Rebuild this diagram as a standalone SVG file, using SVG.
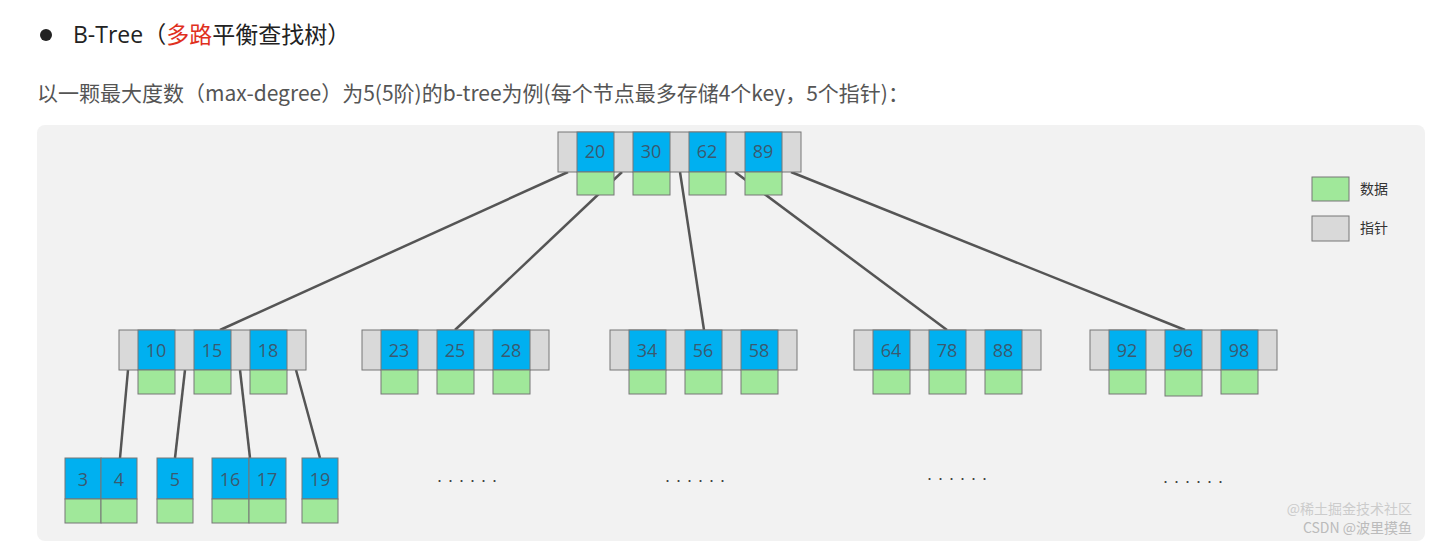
<svg xmlns="http://www.w3.org/2000/svg" width="1430" height="543" viewBox="0 0 1430 543">
<style>
.g{fill:#d9d9d9;stroke:#777;stroke-width:1}
.b{fill:#00b0f0;stroke:#777;stroke-width:1}
.d{fill:#a0e89a;stroke:#777;stroke-width:1}
.k{font-family:"Open Sans","Liberation Sans",sans-serif;font-size:18px;fill:#3a5a70;text-anchor:middle}
.c line{stroke:#555;stroke-width:2.5}
.dots{font-family:"Liberation Sans",sans-serif;font-size:18px;fill:#444;text-anchor:middle;letter-spacing:6px}
.lg{font-family:"Noto Sans CJK SC",sans-serif;font-size:14px;fill:#333}
</style>
<rect width="1430" height="543" fill="#fff"/>
<circle cx="46" cy="35" r="6" fill="#222"/>
<text x="73" y="43" font-family="Open Sans,Noto Sans CJK SC,sans-serif" font-size="23" fill="#222">B-Tree（<tspan fill="#e0301e">多路</tspan>平衡查找树）</text>
<text x="37" y="101" font-family="Noto Sans CJK SC,sans-serif" font-size="21" fill="#555">以一颗最大度数（max-degree）为5(5阶)的b-tree为例(每个节点最多存储4个key，5个指针)：</text>
<rect x="37" y="125" width="1388" height="416" rx="8" fill="#f2f2f2"/>
<g class="c">
<line x1="568" y1="172" x2="220" y2="330"/><line x1="622" y1="172" x2="455" y2="330"/>
<line x1="680" y1="172" x2="704" y2="330"/><line x1="735" y1="172" x2="947" y2="330"/>
<line x1="791" y1="172" x2="1185" y2="330"/>
<line x1="128" y1="370" x2="120" y2="458"/><line x1="185" y1="370" x2="175" y2="458"/>
<line x1="240" y1="370" x2="250" y2="458"/><line x1="296" y1="370" x2="320" y2="458"/>
</g>
<g id="root">
<rect class="g" x="558" y="132" width="243" height="40"/>
<rect class="b" x="577" y="132" width="37" height="40"/><rect class="b" x="633" y="132" width="37" height="40"/><rect class="b" x="689" y="132" width="37" height="40"/><rect class="b" x="745" y="132" width="37" height="40"/>
<rect class="d" x="577" y="172" width="37" height="23"/><rect class="d" x="633" y="172" width="37" height="23"/><rect class="d" x="689" y="172" width="37" height="23"/><rect class="d" x="745" y="172" width="37" height="23"/>
<text class="k" x="595" y="158">20</text><text class="k" x="651" y="158">30</text><text class="k" x="707" y="158">62</text><text class="k" x="763" y="158">89</text>
</g>
<g id="n1" transform="translate(119,0)">
<rect class="g" x="0" y="330" width="187" height="40"/>
<rect class="b" x="19" y="330" width="37" height="40"/><rect class="b" x="75" y="330" width="37" height="40"/><rect class="b" x="131" y="330" width="37" height="40"/>
<rect class="d" x="19" y="370" width="37" height="24"/><rect class="d" x="75" y="370" width="37" height="24"/><rect class="d" x="131" y="370" width="37" height="24"/>
<text class="k" x="37" y="357">10</text><text class="k" x="93" y="357">15</text><text class="k" x="149" y="357">18</text>
</g>
<g id="n2" transform="translate(362,0)">
<rect class="g" x="0" y="330" width="187" height="40"/>
<rect class="b" x="19" y="330" width="37" height="40"/><rect class="b" x="75" y="330" width="37" height="40"/><rect class="b" x="131" y="330" width="37" height="40"/>
<rect class="d" x="19" y="370" width="37" height="24"/><rect class="d" x="75" y="370" width="37" height="24"/><rect class="d" x="131" y="370" width="37" height="24"/>
<text class="k" x="37" y="357">23</text><text class="k" x="93" y="357">25</text><text class="k" x="149" y="357">28</text>
</g>
<g id="n3" transform="translate(610,0)">
<rect class="g" x="0" y="330" width="187" height="40"/>
<rect class="b" x="19" y="330" width="37" height="40"/><rect class="b" x="75" y="330" width="37" height="40"/><rect class="b" x="131" y="330" width="37" height="40"/>
<rect class="d" x="19" y="370" width="37" height="24"/><rect class="d" x="75" y="370" width="37" height="24"/><rect class="d" x="131" y="370" width="37" height="24"/>
<text class="k" x="37" y="357">34</text><text class="k" x="93" y="357">56</text><text class="k" x="149" y="357">58</text>
</g>
<g id="n4" transform="translate(854,0)">
<rect class="g" x="0" y="330" width="187" height="40"/>
<rect class="b" x="19" y="330" width="37" height="40"/><rect class="b" x="75" y="330" width="37" height="40"/><rect class="b" x="131" y="330" width="37" height="40"/>
<rect class="d" x="19" y="370" width="37" height="24"/><rect class="d" x="75" y="370" width="37" height="24"/><rect class="d" x="131" y="370" width="37" height="24"/>
<text class="k" x="37" y="357">64</text><text class="k" x="93" y="357">78</text><text class="k" x="149" y="357">88</text>
</g>
<g id="n5" transform="translate(1090,0)">
<rect class="g" x="0" y="330" width="187" height="40"/>
<rect class="b" x="19" y="330" width="37" height="40"/><rect class="b" x="75" y="330" width="37" height="40"/><rect class="b" x="131" y="330" width="37" height="40"/>
<rect class="d" x="19" y="370" width="37" height="24"/><rect class="d" x="75" y="370" width="37" height="26"/><rect class="d" x="131" y="370" width="37" height="24"/>
<text class="k" x="37" y="357">92</text><text class="k" x="93" y="357">96</text><text class="k" x="149" y="357">98</text>
</g>
<g id="leaf1">
<rect class="b" x="65" y="458" width="36" height="41"/><rect class="b" x="101" y="458" width="36" height="41"/>
<rect class="d" x="65" y="499" width="36" height="24"/><rect class="d" x="101" y="499" width="36" height="24"/>
<text class="k" x="83" y="486">3</text><text class="k" x="119" y="486">4</text>
</g>
<g id="leaf2">
<rect class="b" x="157" y="458" width="36" height="41"/><rect class="d" x="157" y="499" width="36" height="24"/>
<text class="k" x="175" y="486">5</text>
</g>
<g id="leaf3">
<rect class="b" x="212" y="458" width="37" height="41"/><rect class="b" x="249" y="458" width="37" height="41"/>
<rect class="d" x="212" y="499" width="37" height="24"/><rect class="d" x="249" y="499" width="37" height="24"/>
<text class="k" x="230" y="486">16</text><text class="k" x="267" y="486">17</text>
</g>
<g id="leaf4">
<rect class="b" x="302" y="458" width="36" height="41"/><rect class="d" x="302" y="499" width="36" height="24"/>
<text class="k" x="320" y="486">19</text>
</g>
<text class="dots" x="470" y="482">......</text>
<text class="dots" x="698" y="482">......</text>
<text class="dots" x="960" y="480">......</text>
<text class="dots" x="1196" y="483">......</text>
<g id="legend">
<rect class="d" x="1312" y="177" width="37" height="24"/><text class="lg" x="1360" y="194">数据</text>
<rect class="g" x="1312" y="216" width="37" height="25"/><text class="lg" x="1360" y="233">指针</text>
</g>
<text x="1412" y="514" text-anchor="end" font-family="Noto Sans CJK SC,sans-serif" font-size="14" fill="#ccc">@稀土掘金技术社区</text>
<text x="1412" y="533" text-anchor="end" font-family="Noto Sans CJK SC,sans-serif" font-size="14" fill="#bbb">CSDN @波里摸鱼</text>
</svg>
